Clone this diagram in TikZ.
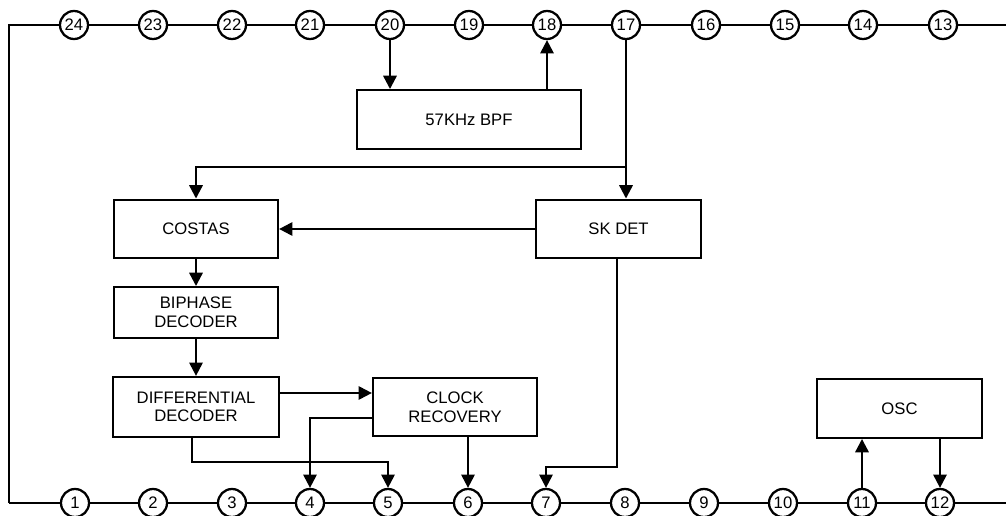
\documentclass[tikz,border=0pt]{standalone}
\usepackage{fontspec}
\setmainfont{Liberation Sans}
\usetikzlibrary{arrows.meta,calc}
\begin{document}
\begin{tikzpicture}[x=0.75pt,y=-0.75pt,
  line width=1.7pt,
  pin/.style={draw,circle,fill=white,minimum size=21pt,inner sep=0pt,font=\fontsize{12.5}{14}\selectfont},
  blk/.style={draw,rectangle,inner sep=0pt,align=center,font=\fontsize{12.5}{14}\selectfont},
  arr/.style={-{Triangle[length=10pt,width=10pt]}}
]
\useasboundingbox (0,0) rectangle (1006,516);
% pins top
\foreach \n/\x in {24/74,23/153,22/232,21/310,20/390,19/469,18/547,17/626,16/706,15/785,14/863,13/943}
  \node[pin] (p\n) at (\x,25) {\n};
% pins bottom
\foreach \n/\x in {1/75,2/153,3/232,4/310,5/388,6/468,7/546,8/625,9/704,10/783,11/862,12/940}
  \node[pin] (p\n) at (\x,503) {\n};
\coordinate (tl) at (9,25);
\coordinate (bl) at (9,503);
\coordinate (tr) at (1006,25);
\coordinate (brr) at (1006,503);
% frame lines
\draw (bl) -- (tl) -- (p24) -- (p23) -- (p22) -- (p21) -- (p20) -- (p19) -- (p18) -- (p17) -- (p16) -- (p15) -- (p14) -- (p13) -- (tr);
\draw (bl) -- (p1) -- (p2) -- (p3) -- (p4) -- (p5) -- (p6) -- (p7) -- (p8) -- (p9) -- (p10) -- (p11) -- (p12) -- (brr);
% blocks
\node[blk,minimum width=168pt,minimum height=44pt] (bpf) at (469,119.5) {57KHz BPF};
\node[blk,minimum width=123pt,minimum height=44pt] (costas) at (196,229) {COSTAS};
\node[blk,minimum width=124pt,minimum height=44pt] (sk) at (618.5,229) {SK DET};
\node[blk,minimum width=123pt,minimum height=38pt] (bip) at (196,312.5) {BIPHASE\\DECODER};
\node[blk,minimum width=124pt,minimum height=45pt] (diff) at (196,407) {DIFFERENTIAL\\DECODER};
\node[blk,minimum width=123pt,minimum height=44pt] (clk) at (455,407) {CLOCK\\RECOVERY};
\node[blk,minimum width=124pt,minimum height=44pt] (osc) at (899.5,408.5) {OSC};
% connectors
\draw[arr] (p20) -- (p20 |- bpf.north);
\draw[arr] (bpf.north -| p18) -- (p18);
\draw[arr] (p17) -- (p17 |- sk.north);
\coordinate (j17) at (626,167);
\draw[arr] (j17) -- (costas.north |- j17) -- (costas.north);
\draw[arr] (sk.west) -- (costas.east);
\draw[arr] (costas.south) -- (bip.north);
\draw[arr] (bip.south) -- (diff.north);
\draw[arr] (diff.east |- 0,393) -- (clk.west |- 0,393);
\draw[arr] (diff.south -| 192,0) -- (192,462) -| (p5);
\draw[arr] (clk.west |- 0,418) -| (p4);
\draw[arr] (clk.south -| p6) -- (p6);
\draw[arr] (sk.south -| 617,0) -- (617,467) -| (p7);
\draw[arr] (p11) -- (p11 |- osc.south);
\draw[arr] (osc.south -| p12) -- (p12);
\end{tikzpicture}
\end{document}
